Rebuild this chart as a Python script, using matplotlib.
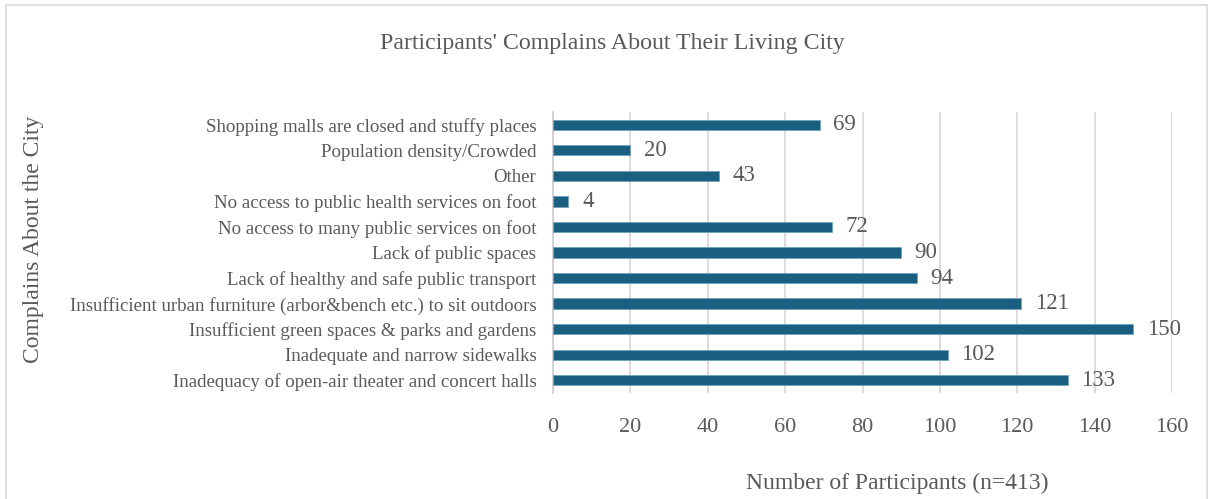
import matplotlib
matplotlib.use("Agg")
import matplotlib.pyplot as plt
from matplotlib.patches import Rectangle

categories = [
    "Inadequacy of open-air theater and concert halls",
    "Inadequate and narrow sidewalks",
    "Insufficient green spaces & parks and gardens",
    "Insufficient urban furniture (arbor&bench etc.) to sit outdoors",
    "Lack of healthy and safe public transport",
    "Lack of public spaces",
    "No access to many public services on foot",
    "No access to public health services on foot",
    "Other",
    "Population density/Crowded",
    "Shopping malls are closed and stuffy places",
]
counts = [133, 102, 150, 121, 94, 90, 72, 4, 43, 20, 69]
x_ticks = [0, 20, 40, 60, 80, 100, 120, 140, 160]

plt.rcParams["font.family"] = ["Liberation Serif", "DejaVu Serif"]
text_color = "#595959"
bar_color = "#1b5f80"

fig = plt.figure(figsize=(12.13, 4.99), dpi=100)
ax = fig.add_axes([0.4559, 0.2124, 0.5103, 0.5632])

positions = range(len(categories))
ax.barh(positions, counts, height=0.4, color=bar_color,
        edgecolor="#6fa3bd", linewidth=0.6, zorder=3)
for y, v in zip(positions, counts):
    ax.text(v + 3.5, y, str(v), va="center", ha="left",
            fontsize=16.5, color=text_color)

ax.set_xlim(0, 160)
ax.set_ylim(-0.5, len(categories) - 0.5)
ax.set_xticks(x_ticks)
ax.set_xticklabels([str(t) for t in x_ticks], fontsize=16, color=text_color)
ax.set_yticks(list(positions))
ax.set_yticklabels(categories, fontsize=13.6, color=text_color)
ax.tick_params(axis="both", length=0)
ax.tick_params(axis="x", pad=18)
ax.tick_params(axis="y", pad=12)

ax.grid(True, axis="x", color="#d9d9d9", linewidth=1.3, zorder=0)
ax.grid(False, axis="y")
for side in ["top", "right", "bottom"]:
    ax.spines[side].set_visible(False)
ax.spines["left"].set_color("#d0d0d0")
ax.spines["left"].set_linewidth(1.3)

fig.text(0.5045, 0.913, "Participants' Complains About Their Living City",
         ha="center", va="center", fontsize=17.2, color=text_color)
fig.text(0.74, 0.032, "Number of Participants (n=413)",
         ha="center", va="center", fontsize=17, color=text_color)
fig.text(0.028, 0.52, "Complains About the City", rotation=90,
         ha="center", va="center", fontsize=17, color=text_color)

fig.patches.append(Rectangle((0.005, -0.1), 0.99, 1.09,
                             transform=fig.transFigure, fill=False,
                             edgecolor="#d9d9d9", linewidth=1.2))

fig.savefig("out.png", dpi=100)
